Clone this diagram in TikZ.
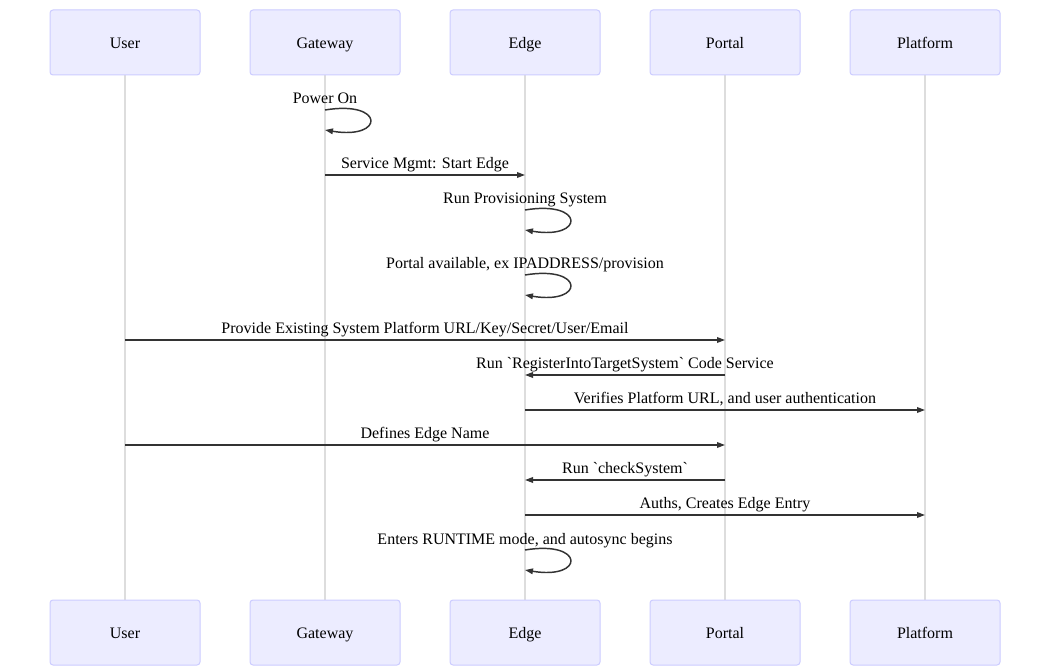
\documentclass[tikz,border=0pt]{standalone}
\usepackage{fontspec}
\setmainfont{Liberation Serif}
\usetikzlibrary{arrows.meta}
\definecolor{boxfill}{HTML}{ECECFF}
\definecolor{boxline}{HTML}{CCCCFF}
\definecolor{lifeline}{HTML}{DDDDDD}
\definecolor{msgline}{HTML}{333333}
\tikzset{
  actor/.style={draw=boxline, fill=boxfill, line width=0.75pt, rounded corners=2.25pt,
    minimum width=112.5pt, minimum height=48.75pt, inner sep=0pt, font=\fontsize{12}{14}\selectfont},
  life/.style={draw=lifeline, line width=1.2pt},
  msg/.style={draw=msgline, line width=1.1pt, -{Triangle[length=6pt,width=4.2pt]}},
  lbl/.style={anchor=base, inner sep=0pt, font=\fontsize{12}{14}\selectfont, text=black},
}
\newcommand{\bq}{\textasciigrave}
\begin{document}
\begin{tikzpicture}[x=0.75pt, y=-0.75pt]
\useasboundingbox (0,0) rectangle (1050,666);
\fill[white] (0,0) rectangle (1050,666);
% lifelines
\foreach \n/\x in {user/125, gw/325, edge/525, portal/725, plat/925}{
  \coordinate (\n T) at (\x,75);
  \coordinate (\n B) at (\x,600);
  \draw[life] (\n T) -- (\n B);
}
% actor boxes
\node[actor] (userTop) at (125,42.5) {};
\node[actor] (gwTop) at (325,42.5) {};
\node[actor] (edgeTop) at (525,42.5) {};
\node[actor] (portalTop) at (725,42.5) {};
\node[actor] (platTop) at (925,42.5) {};
\node[actor] (userBot) at (125,632.5) {};
\node[actor] (gwBot) at (325,632.5) {};
\node[actor] (edgeBot) at (525,632.5) {};
\node[actor] (portalBot) at (725,632.5) {};
\node[actor] (platBot) at (925,632.5) {};
\foreach \n/\x/\t in {user/125/User, gw/325/Gateway, edge/525/Edge, portal/725/Portal, plat/925/Platform}{
  \node[lbl] (\n TopL) at (\x,48.5) {\t};
  \node[lbl] (\n BotL) at (\x,638.5) {\t};
}
% self loop: Power On
\node[lbl] (m1) at (325,104) {Power On};
\coordinate (a1) at (325,110); \coordinate (b1) at (325,130);
\draw[msg] (a1) .. controls (385,100) and (385,140) .. (b1);
% Service Mgmt
\node[lbl] (m2) at (425,169) {Service Mgmt: Start Edge};
\coordinate (a2) at (325,175); \coordinate (b2) at (525,175);
\draw[msg] (a2) -- (b2);
% Run Provisioning System
\node[lbl] (m3) at (525,204) {Run Provisioning System};
\coordinate (a3) at (525,210); \coordinate (b3) at (525,230);
\draw[msg] (a3) .. controls (585,200) and (585,240) .. (b3);
% Portal available
\node[lbl] (m4) at (525,269) {Portal available, ex IPADDRESS/provision};
\coordinate (a4) at (525,275); \coordinate (b4) at (525,295);
\draw[msg] (a4) .. controls (585,265) and (585,305) .. (b4);
% Provide Existing
\node[lbl] (m5) at (425,333.5) {Provide Existing System Platform URL/Key/Secret/User/Email};
\coordinate (a5) at (125,340); \coordinate (b5) at (725,340);
\draw[msg] (a5) -- (b5);
% Run RegisterIntoTargetSystem
\node[lbl] (m6) at (625,368.5) {Run \bq RegisterIntoTargetSystem\bq{} Code Service};
\coordinate (a6) at (725,375); \coordinate (b6) at (525,375);
\draw[msg] (a6) -- (b6);
% Verifies
\node[lbl] (m7) at (725,403.5) {Verifies Platform URL, and user authentication};
\coordinate (a7) at (525,410); \coordinate (b7) at (925,410);
\draw[msg] (a7) -- (b7);
% Defines Edge Name
\node[lbl] (m8) at (425,438.5) {Defines Edge Name};
\coordinate (a8) at (125,445); \coordinate (b8) at (725,445);
\draw[msg] (a8) -- (b8);
% Run checkSystem
\node[lbl] (m9) at (625,473.5) {Run \bq checkSystem\bq};
\coordinate (a9) at (725,480); \coordinate (b9) at (525,480);
\draw[msg] (a9) -- (b9);
% Auths
\node[lbl] (m10) at (725,508.5) {Auths, Creates Edge Entry};
\coordinate (a10) at (525,515); \coordinate (b10) at (925,515);
\draw[msg] (a10) -- (b10);
% Enters RUNTIME
\node[lbl] (m11) at (525,544) {Enters RUNTIME mode, and autosync begins};
\coordinate (a11) at (525,550); \coordinate (b11) at (525,570);
\draw[msg] (a11) .. controls (585,540) and (585,580) .. (b11);
\end{tikzpicture}
\end{document}
